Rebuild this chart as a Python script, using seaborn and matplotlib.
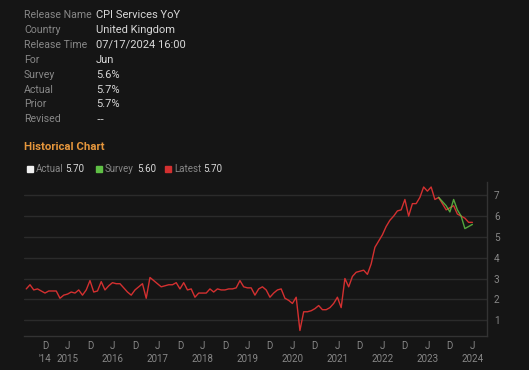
import numpy as np
import pandas as pd
import matplotlib
matplotlib.use("Agg")
import matplotlib.pyplot as plt
import seaborn as sns

# ---------------- data ----------------
start_month = "2014-07"
latest_values = [
    2.5, 2.7, 2.45, 2.5, 2.4, 2.3,                      # Jul-Dec 2014
    2.4, 2.4, 2.4, 2.05, 2.2, 2.25, 2.35, 2.3, 2.45, 2.2, 2.45, 2.9,   # 2015
    2.35, 2.4, 2.85, 2.45, 2.65, 2.8, 2.75, 2.75, 2.55, 2.35, 2.2, 2.45,  # 2016
    2.6, 2.75, 2.05, 3.05, 2.9, 2.75, 2.6, 2.65, 2.7, 2.7, 2.8, 2.5,   # 2017
    2.8, 2.45, 2.5, 2.1, 2.3, 2.3, 2.3, 2.5, 2.35, 2.5, 2.45, 2.45,    # 2018
    2.5, 2.5, 2.55, 2.9, 2.6, 2.55, 2.55, 2.2, 2.5, 2.6, 2.45, 2.1,    # 2019
    2.3, 2.45, 2.5, 2.05, 1.95, 1.8, 2.1, 0.5, 1.4, 1.4, 1.45, 1.55,   # 2020
    1.7, 1.5, 1.5, 1.6, 1.8, 2.1, 1.6, 3.0, 2.6, 3.1, 3.3, 3.35,       # 2021
    3.4, 3.2, 3.7, 4.5, 4.8, 5.1, 5.5, 5.8, 6.0, 6.25, 6.3, 6.8,       # 2022
    6.0, 6.6, 6.6, 6.9, 7.4, 7.2, 7.4, 6.8, 6.9, 6.6, 6.3, 6.4,        # 2023
    6.5, 6.1, 6.0, 5.9, 5.7, 5.7,                                      # Jan-Jun 2024
]
survey_start = "2023-09"
survey_values = [6.9, 6.7, 6.5, 6.2, 6.8, 6.3, 6.0, 5.4, 5.5, 5.6]

info_labels = ["Release Name", "Country", "Release Time", "For", "Survey", "Actual", "Prior", "Revised"]
info_values = ["CPI Services YoY", "United Kingdom", "07/17/2024 16:00", "Jun", "5.6%", "5.7%", "5.7%", "--"]

legend_names = ["Actual", "Survey", "Latest"]
legend_numbers = ["5.70", "5.60", "5.70"]
y_ticks = [1, 2, 3, 4, 5, 6, 7]

# ---------------- frames ----------------
months = pd.period_range(start_month, periods=len(latest_values), freq="M")
df_latest = pd.DataFrame({"idx": np.arange(len(months)), "value": latest_values})
s_months = pd.period_range(survey_start, periods=len(survey_values), freq="M")
s_idx = [(m - months[0]).n for m in s_months]
df_survey = pd.DataFrame({"idx": s_idx, "value": survey_values})

BG = "#151515"
GRID = "#2b2b2b"
LABEL = "#878787"
VALUE = "#d8d8d8"
RED = "#d33030"
GREEN = "#5fbf45"
ORANGE = "#e5963c"

sns.set_theme(style="dark")
plt.rcParams["font.family"] = ["Roboto", "DejaVu Sans"]

fig = plt.figure(figsize=(5.29, 3.70), dpi=100, facecolor=BG)
ax = fig.add_axes([24 / 529, 1 - 335.7 / 370, (487 - 24) / 529, (335.7 - 182) / 370])
ax.set_facecolor(BG)

sns.lineplot(data=df_latest, x="idx", y="value", ax=ax, color=RED, linewidth=1.0)
sns.lineplot(data=df_survey, x="idx", y="value", ax=ax, color=GREEN, linewidth=1.0, alpha=0.85)

ax.set_xlim(-0.6, 122.9)
ax.set_ylim(0.25, 7.64)
ax.set_xlabel("")
ax.set_ylabel("")

# y axis on right
ax.yaxis.tick_right()
ax.set_yticks(y_ticks)
ax.set_yticklabels([str(t) for t in y_ticks])
ax.tick_params(axis="y", colors=LABEL, labelsize=7.2, length=0, pad=5)
ax.grid(axis="y", color=GRID, linewidth=1.0)
ax.grid(axis="x", visible=False)

# x ticks at Dec and Jun
tick_pos, tick_lab = [], []
first = True
for i, m in enumerate(months):
    if m.month == 12:
        tick_pos.append(i)
        tick_lab.append("D\n'" + str(m.year)[2:] if first else "D")
        first = False
    elif m.month == 6:
        tick_pos.append(i)
        tick_lab.append("J\n" + str(m.year))
        first = False
ax.set_xticks(tick_pos)
ax.set_xticklabels(tick_lab, linespacing=1.3)
ax.tick_params(axis="x", colors=LABEL, labelsize=7, length=3, width=0.8, pad=1,
               color="#3a3a3a")

for side in ["top", "left"]:
    ax.spines[side].set_visible(False)
for side in ["bottom", "right"]:
    ax.spines[side].set_visible(True)
    ax.spines[side].set_color("#333333")
    ax.spines[side].set_linewidth(1.0)

# ---------------- header text ----------------
row_y = [15, 30, 45, 60, 75, 90, 104, 119]
for lab, val, y in zip(info_labels, info_values, row_y):
    fig.text(24 / 529, 1 - y / 370, lab, color=LABEL, fontsize=7.6, va="center", ha="left")
    fam = ["DejaVu Sans"] if val == "--" else ["Roboto", "DejaVu Sans"]
    fig.text(96 / 529, 1 - y / 370, val, color=VALUE, fontsize=8.0, va="center", ha="left",
             family=fam)

fig.text(24 / 529, 1 - 147 / 370, "Historical Chart", color=ORANGE, fontsize=8.2,
         va="center", ha="left", fontweight="bold")

leg_colors = ["#f0f0f0", GREEN, RED]
sq_x = [27, 96, 165]
name_x = [36, 105, 174]
num_x = [65, 137, 203]
ly = 169
for c, sx, nm, nx, num, ux in zip(leg_colors, sq_x, legend_names, name_x, legend_numbers, num_x):
    fig.patches.append(plt.Rectangle((sx / 529, 1 - (ly + 3) / 370), 6 / 529, 6 / 370,
                                     transform=fig.transFigure, color=c, figure=fig))
    fig.text(nx / 529, 1 - ly / 370, nm, color=LABEL, fontsize=7, va="center", ha="left")
    fig.text(ux / 529, 1 - ly / 370, num, color=VALUE, fontsize=7, va="center", ha="left")

fig.savefig("out.png", dpi=100, facecolor=BG)
